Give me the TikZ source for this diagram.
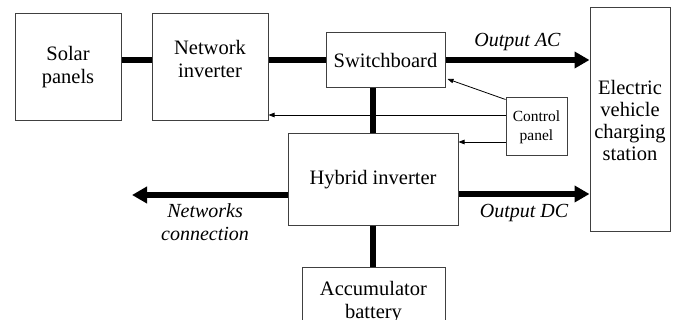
\documentclass[tikz,border=0pt]{standalone}
\usepackage{fontspec}
\setmainfont{Liberation Serif}
\usetikzlibrary{arrows.meta,positioning}

\begin{document}
\begin{tikzpicture}[x=1pt,y=-1pt,
                    block/.style={draw=black!75,line width=1pt,align=center,inner sep=0pt,
                                  font=\fontsize{20.5}{23}\selectfont},
                    power/.style={line width=5.6pt},
                    powerarrow/.style={power,-{Triangle[length=15pt,width=16pt]}},
                    signal/.style={line width=0.8pt,-{Triangle[length=6pt,width=4.5pt]}},
                    flowlabel/.style={font=\fontsize{20}{23}\selectfont\itshape,inner sep=2pt,align=center}]
  \useasboundingbox (0,0) rectangle (678,320);
  \clip (0,0) rectangle (678,320);

  \node[block,minimum width=106pt,minimum height=107pt] (solar)   at (68,67.5)    {Solar\\panels};
  \node[block,minimum width=116pt,minimum height=107pt,
        label={[align=center,font=\fontsize{20.5}{23}\selectfont,yshift=9pt]center:Network\\inverter}]
                                                        (netinv)  at (210,67.5)   {};
  \node[block,minimum width=119pt,minimum height=55pt]  (switch)  at (385.5,60)   {Switchboard};
  \node[block,minimum width=80pt,minimum height=224pt,font=\fontsize{20.5}{22}\selectfont]
                                                        (ev)      at (630,120)    {Electric\\vehicle\\charging\\station};
  \node[block,minimum width=61pt,minimum height=58pt,font=\fontsize{15.5}{19}\selectfont]
                                                        (ctrl)    at (536.5,127)  {Control\\panel};
  \node[block,minimum width=170pt,minimum height=92pt]  (hybrid)  at (373,180)    {Hybrid inverter};
  \node[block,minimum width=143pt,minimum height=68pt]  (battery) at (373.5,302)  {Accumulator\\battery};

  \coordinate (ctrlnet) at ([yshift=12pt]ctrl.west);
  \coordinate (ctrlhyb) at ([yshift=-15pt]ctrl.west);
  \coordinate (hybdc)   at ([yshift=-14pt]hybrid.east);
  \coordinate (hybgrid) at ([yshift=-15pt]hybrid.west);
  \coordinate (grid)    at (132,195);

  % power lines
  \draw[power] ([yshift=7.5pt]solar.east) -- ([yshift=7.5pt]netinv.west);
  \draw[power] ([yshift=7.5pt]netinv.east) -- (switch.west);
  \draw[power] (hybrid.north) -- (hybrid.north |- switch.south);
  \draw[power] (hybrid.south) -- (hybrid.south |- battery.north);
  \draw[powerarrow] (switch.east) -- (switch.east -| ev.west)
        node[flowlabel,midway,above=4.5pt] {Output AC};
  \draw[powerarrow] (hybdc) -- (hybdc -| ev.west)
        node[flowlabel,midway,below=5pt] {Output DC};
  \draw[powerarrow] (hybgrid) -- (grid)
        node[flowlabel,pos=0.53,below=4pt] {Networks\\connection};

  % control signals
  \draw[signal] ([yshift=-2pt]ctrl.north west) -- ([xshift=2pt,yshift=9pt]switch.south east);
  \draw[signal] (ctrlnet) -- (ctrlnet -| netinv.east);
  \draw[signal] (ctrlhyb) -- (ctrlhyb -| hybrid.east);
\end{tikzpicture}
\end{document}
